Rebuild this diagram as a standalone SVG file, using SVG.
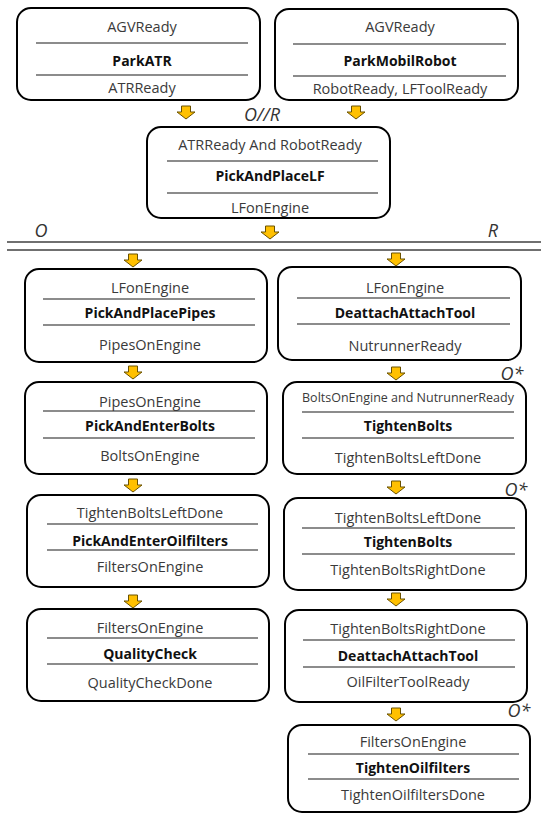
<svg xmlns="http://www.w3.org/2000/svg" xmlns:xlink="http://www.w3.org/1999/xlink" width="541" height="814" viewBox="0 0 541 814">
<defs>
<style>
.box{fill:#fff;stroke:#000;stroke-width:2}
.sep{stroke:#1a1a1a;stroke-width:1.2}
.t{font-family:"Open Sans","Liberation Sans",sans-serif;font-size:14.5px;fill:#3a3a3a;text-anchor:middle}
.b{font-family:"Open Sans","Liberation Sans",sans-serif;font-size:14px;font-weight:bold;fill:#111;text-anchor:middle}
.s{font-size:12.5px}
.lbl{font-family:"Open Sans","Liberation Sans",sans-serif;font-size:18px;font-style:italic;fill:#333}
.arr{fill:#FFC000;stroke:#6b5200;stroke-width:1}
.dl{stroke:#404040;stroke-width:1.5}
</style>
<path id="ar" class="arr" d="M-4.5,0 H4.5 V6 H9 L0,13 L-9,6 H-4.5 Z"/>
</defs>

<g id="n_parkatr">
<rect class="box" x="17" y="8" width="243" height="92" rx="14"/>
<line class="sep" x1="36" y1="43" x2="248" y2="43"/><line class="sep" x1="36" y1="75" x2="248" y2="75"/>
<text class="t" x="142" y="32">AGVReady</text>
<text class="b" x="142" y="66">ParkATR</text>
<text class="t" x="142" y="93">ATRReady</text>
</g>
<g id="n_parkmobil">
<rect class="box" x="275" y="9" width="243" height="91" rx="14"/>
<line class="sep" x1="293" y1="44" x2="506" y2="44"/><line class="sep" x1="293" y1="76" x2="506" y2="76"/>
<text class="t" x="400" y="32">AGVReady</text>
<text class="b" x="400" y="66">ParkMobilRobot</text>
<text class="t" x="400" y="94">RobotReady, LFToolReady</text>
</g>
<g id="n_pickplacelf">
<rect class="box" x="147" y="127" width="243" height="91" rx="14"/>
<line class="sep" x1="167" y1="161" x2="378" y2="161"/><line class="sep" x1="167" y1="193" x2="378" y2="193"/>
<text class="t" x="270" y="150">ATRReady And RobotReady</text>
<text class="b" x="270" y="181">PickAndPlaceLF</text>
<text class="t" x="270" y="213">LFonEngine</text>
</g>
<g id="n_pipes">
<rect class="box" x="25" y="269" width="242" height="93" rx="14"/>
<line class="sep" x1="43" y1="299" x2="255" y2="299"/><line class="sep" x1="43" y1="325" x2="255" y2="325"/>
<text class="t" x="150" y="293">LFonEngine</text>
<text class="b" x="150" y="318">PickAndPlacePipes</text>
<text class="t" x="150" y="350">PipesOnEngine</text>
</g>
<g id="n_bolts">
<rect class="box" x="25" y="382" width="242" height="92" rx="14"/>
<line class="sep" x1="43" y1="411" x2="255" y2="411"/><line class="sep" x1="43" y1="438" x2="255" y2="438"/>
<text class="t" x="150" y="407">PipesOnEngine</text>
<text class="b" x="150" y="431">PickAndEnterBolts</text>
<text class="t" x="150" y="461">BoltsOnEngine</text>
</g>
<g id="n_oilfilters">
<rect class="box" x="27" y="495" width="242" height="92" rx="14"/>
<line class="sep" x1="47" y1="524" x2="258" y2="524"/><line class="sep" x1="47" y1="550" x2="258" y2="550"/>
<text class="t" x="150" y="518">TightenBoltsLeftDone</text>
<text class="b" x="150" y="546">PickAndEnterOilfilters</text>
<text class="t" x="150" y="572">FiltersOnEngine</text>
</g>
<g id="n_quality">
<rect class="box" x="27" y="609" width="242" height="92" rx="14"/>
<line class="sep" x1="47" y1="638" x2="258" y2="638"/><line class="sep" x1="47" y1="664" x2="258" y2="664"/>
<text class="t" x="150" y="633">FiltersOnEngine</text>
<text class="b" x="150" y="659">QualityCheck</text>
<text class="t" x="150" y="688">QualityCheckDone</text>
</g>
<g id="n_deattach1">
<rect class="box" x="278" y="267" width="243" height="93" rx="14"/>
<line class="sep" x1="297" y1="298" x2="510" y2="298"/><line class="sep" x1="297" y1="324" x2="510" y2="324"/>
<text class="t" x="405" y="293">LFonEngine</text>
<text class="b" x="405" y="318">DeattachAttachTool</text>
<text class="t" x="405" y="351">NutrunnerReady</text>
</g>
<g id="n_tighten1">
<rect class="box" x="283" y="382" width="243" height="92" rx="14"/>
<line class="sep" x1="302" y1="412" x2="514" y2="412"/><line class="sep" x1="302" y1="438" x2="514" y2="438"/>
<text class="t s" x="408" y="402">BoltsOnEngine and NutrunnerReady</text>
<text class="b" x="408" y="431">TightenBolts</text>
<text class="t" x="408" y="463">TightenBoltsLeftDone</text>
</g>
<g id="n_tighten2">
<rect class="box" x="284" y="498" width="242" height="92" rx="14"/>
<line class="sep" x1="302" y1="528" x2="515" y2="528"/><line class="sep" x1="302" y1="554" x2="515" y2="554"/>
<text class="t" x="408" y="523">TightenBoltsLeftDone</text>
<text class="b" x="408" y="547">TightenBolts</text>
<text class="t" x="408" y="575">TightenBoltsRightDone</text>
</g>
<g id="n_deattach2">
<rect class="box" x="285" y="610" width="242" height="92" rx="14"/>
<line class="sep" x1="303" y1="640" x2="515" y2="640"/><line class="sep" x1="303" y1="667" x2="515" y2="667"/>
<text class="t" x="408" y="634">TightenBoltsRightDone</text>
<text class="b" x="408" y="661">DeattachAttachTool</text>
<text class="t" x="408" y="687">OilFilterToolReady</text>
</g>
<g id="n_tightenoil">
<rect class="box" x="288" y="725" width="242" height="87" rx="14"/>
<line class="sep" x1="308" y1="754" x2="519" y2="754"/><line class="sep" x1="308" y1="779" x2="519" y2="779"/>
<text class="t" x="413" y="747">FiltersOnEngine</text>
<text class="b" x="413" y="773">TightenOilfilters</text>
<text class="t" x="413" y="800">TightenOilfiltersDone</text>
</g>

<g id="connectors">
<use xlink:href="#ar" x="186" y="106"/>
<use xlink:href="#ar" x="356" y="106"/>
<use xlink:href="#ar" x="270" y="226"/>
<line class="dl" x1="7" y1="242" x2="541" y2="242"/>
<line class="dl" x1="7" y1="250" x2="541" y2="250"/>
<use xlink:href="#ar" x="133" y="254"/>
<use xlink:href="#ar" x="133" y="366"/>
<use xlink:href="#ar" x="133" y="479"/>
<use xlink:href="#ar" x="133" y="595"/>
<use xlink:href="#ar" x="396" y="253"/>
<use xlink:href="#ar" x="396" y="367"/>
<use xlink:href="#ar" x="396" y="481"/>
<use xlink:href="#ar" x="396" y="593"/>
<use xlink:href="#ar" x="396" y="708"/>
</g>

<g id="labels">
<text class="lbl" x="262" y="121" text-anchor="middle">O//R</text>
<text class="lbl" x="41" y="237" text-anchor="middle">O</text>
<text class="lbl" x="493" y="237" text-anchor="middle">R</text>
<text class="lbl" x="512" y="380" text-anchor="middle">O*</text>
<text class="lbl" x="516" y="496" text-anchor="middle">O*</text>
<text class="lbl" x="519" y="717" text-anchor="middle">O*</text>
</g>
</svg>
